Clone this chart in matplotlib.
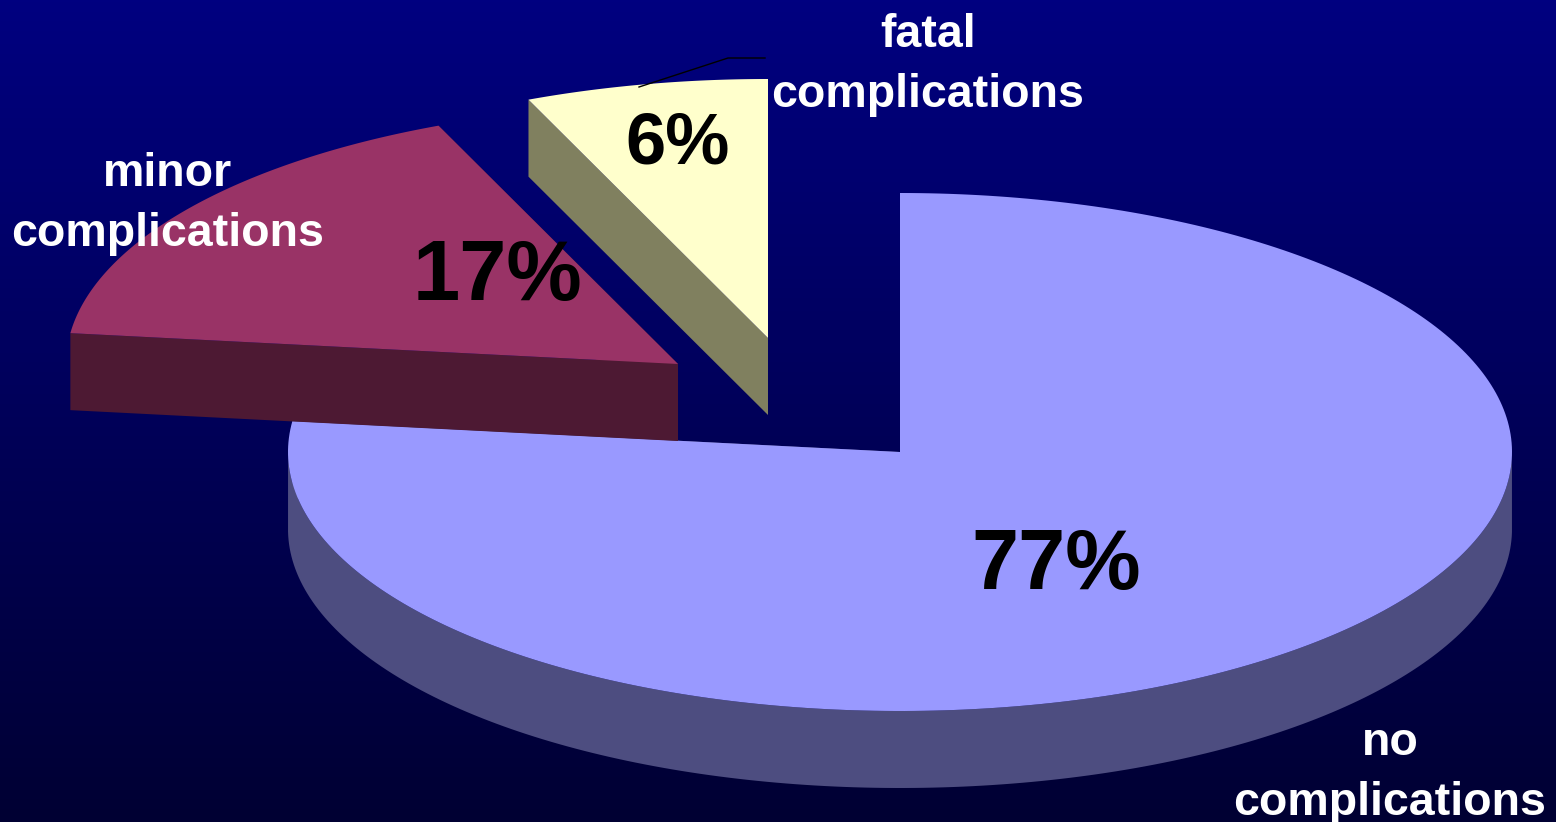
"""Exploded pseudo-3D pie of complication rates on a blue gradient."""

import matplotlib

matplotlib.use("Agg")
import matplotlib.pyplot as plt
import numpy as np
from matplotlib.patches import Polygon

LABELS = ["no\ncomplications", "minor\ncomplications", "fatal\ncomplications"]
SHARES = [76.9, 16.7, 6.4]
PERCENT_LABELS = ["77%", "17%", "6%"]

WIDTH, HEIGHT = 1556, 822
TOP_COLORS = ["#9999ff", "#993366", "#ffffcc"]
SIDE_COLORS = ["#4d4d80", "#4d1933", "#80805f"]
CENTERS = [(900, 452), (678, 364), (768, 338)]
RADIUS_X, RADIUS_Y = 612, 259
DEPTH = 77
LABEL_POS = [(1390, 773), (168, 204), (928, 65)]
PERCENT_POS = [(1056, 567), (498, 278), (678, 145)]
PERCENT_SIZE = [61, 61, 52]
LEADER_X = [639, 728, 765]
LEADER_Y = [87, 58, 58]


def draw_slice(ax, center, start, stop, top_color, side_color):
    # angles are clockwise from 12 o'clock, in screen coordinates
    angles = np.linspace(start, stop, 300)
    theta = np.radians(angles)
    edge = np.column_stack(
        (center[0] + RADIUS_X * np.sin(theta), center[1] - RADIUS_Y * np.cos(theta))
    )
    apex = np.array(center, dtype=float)
    drop = np.array((0, DEPTH))
    # cut faces first, then the outer wall, then the top
    for end in (edge[0], edge[-1]):
        face = [apex, end, end + drop, apex + drop]
        ax.add_patch(Polygon(face, closed=True, fc=side_color, ec="none"))
    visible = edge[(angles > 90) & (angles < 270)]
    if len(visible):
        wall = np.vstack((visible, visible[::-1] + drop))
        ax.add_patch(Polygon(wall, closed=True, fc=side_color, ec="none"))
    ax.add_patch(Polygon(np.vstack((apex, edge)), closed=True, fc=top_color, ec="none"))


def main():
    plt.rcParams["font.family"] = ["Liberation Sans", "DejaVu Sans"]
    fig = plt.figure(figsize=(WIDTH / 100, HEIGHT / 100), dpi=100)
    ax = fig.add_axes((0, 0, 1, 1))

    gradient = np.linspace(0, 1, 256)[:, None, None]
    top_rgb = np.array((0, 0, 128)) / 255
    bottom_rgb = np.array((0, 0, 51)) / 255
    ax.imshow(
        top_rgb + gradient * (bottom_rgb - top_rgb),
        extent=(0, WIDTH, HEIGHT, 0),
        aspect="auto",
        zorder=0,
    )

    start = 0.0
    total = sum(SHARES)
    for i, share in enumerate(SHARES):
        stop = start + 360 * share / total
        draw_slice(ax, CENTERS[i], start, stop, TOP_COLORS[i], SIDE_COLORS[i])
        start = stop

    ax.plot(LEADER_X, LEADER_Y, color="black", lw=1)

    for text, pos in zip(LABELS, LABEL_POS):
        ax.text(
            pos[0], pos[1], text, color="white", fontsize=33.5, weight="bold",
            ha="center", va="center", linespacing=1.48,
        )
    for text, pos, size in zip(PERCENT_LABELS, PERCENT_POS, PERCENT_SIZE):
        ax.text(
            pos[0], pos[1], text, color="black", fontsize=size, weight="bold",
            ha="center", va="center",
        )

    ax.set_xlim(0, WIDTH)
    ax.set_ylim(HEIGHT, 0)
    ax.axis("off")
    fig.savefig("out.png", dpi=100)
    plt.close(fig)


if __name__ == "__main__":
    main()
